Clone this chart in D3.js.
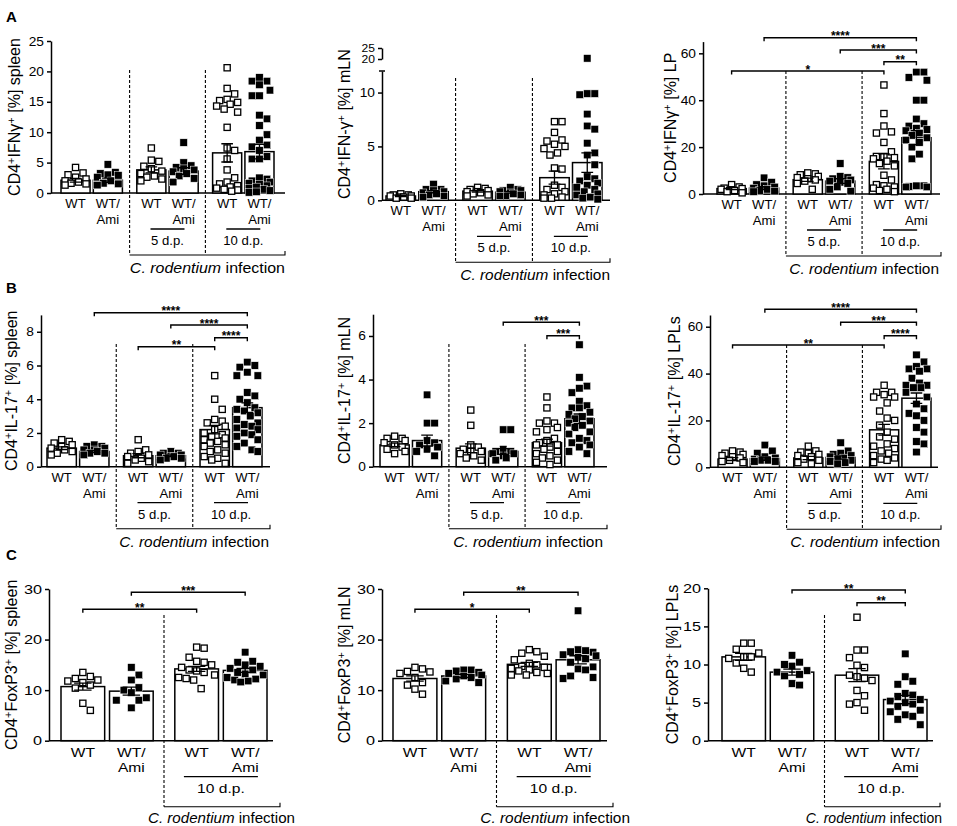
<!DOCTYPE html>
<html>
<head>
<meta charset="utf-8">
<script src="https://cdn.jsdelivr.net/npm/d3@7"></script>
<style>
  body { margin: 0; background: #fff; }
  svg { font-family: "Liberation Sans", Arial, Helvetica, sans-serif; }
</style>
</head>
<body>
<svg id="fig" width="957" height="826"></svg>
<script>
/* DATA */
// bar order in rows A/B: WT, WT/Ami (naive) | WT, WT/Ami (5 d.p.) | WT, WT/Ami (10 d.p.)
const barLabels = ["WT", "WT/Ami", "WT", "WT/Ami", "WT", "WT/Ami"];
const dayLabels = ["", "5 d.p.", "10 d.p."];
// row C: WT, WT/Ami (naive) | WT, WT/Ami (10 d.p.)
const barLabelsC = ["WT", "WT/Ami", "WT", "WT/Ami"];
const dayLabelsC = ["", "10 d.p."];

// A: CD4+IFNγ+ [%]
const ifngSpleen = [
  [4.2, 3.3, 3.0, 2.6, 2.3, 2.0, 1.8, 1.6, 1.5, 1.3],
  [4.7, 3.4, 3.2, 3.0, 2.9, 2.6, 2.0, 1.6, 1.5, 1.3],
  [7.4, 5.4, 5.2, 4.4, 4.0, 3.6, 3.2, 2.8, 2.6, 2.3, 2.0],
  [8.3, 5.0, 4.5, 4.2, 4.0, 3.8, 3.5, 3.2, 2.8, 2.4, 1.8],
  [20.6, 17.2, 16.3, 15.4, 15.2, 14.9, 14.6, 14.3, 13.8, 13.3, 10.8, 7.4, 7.0, 5.6, 3.8, 2.5, 1.8, 1.5, 1.2, 1.0, 0.8, 0.6, 0.5, 0.3],
  [19.0, 18.4, 18.4, 17.8, 16.9, 16.0, 16.0, 12.8, 12.2, 11.1, 9.6, 8.7, 7.9, 7.6, 7.0, 6.0, 5.6, 5.6, 2.5, 2.3, 2.0, 1.8, 1.6, 1.4, 1.2, 1.0, 0.8, 0.6, 0.4, 0.2, 0.1]
];
const ifngSpleenMean = [2.1, 2.1, 3.8, 3.6, 6.6, 6.8];
const ifngSpleenSem = [0.3, 0.35, 0.5, 0.55, 1.5, 1.2];

const ifngMln = [
  [0.6, 0.5, 0.5, 0.4, 0.4, 0.3, 0.3, 0.2, 0.2],
  [1.5, 1.0, 1.0, 0.9, 0.8, 0.7, 0.6, 0.5, 0.4, 0.3],
  [1.2, 1.1, 1.0, 0.9, 0.8, 0.8, 0.7, 0.6, 0.5, 0.4],
  [1.2, 1.0, 0.9, 0.9, 0.8, 0.7, 0.6, 0.5, 0.4, 0.4],
  [7.3, 7.3, 6.3, 5.6, 5.5, 5.2, 5.0, 4.8, 4.4, 4.2, 3.0, 2.9, 1.4, 1.2, 1.0, 0.8, 0.6, 0.5, 0.3, 0.2, 0.2],
  [20.3, 9.9, 9.9, 9.8, 8.0, 6.9, 6.6, 5.3, 4.4, 4.2, 3.3, 2.2, 2.0, 1.8, 1.6, 1.4, 1.2, 1.0, 0.8, 0.6, 0.5, 0.3, 0.2, 0.1]
];
const ifngMlnMean = [0.4, 0.8, 0.85, 0.75, 2.1, 3.5];
const ifngMlnSem = [0.05, 0.1, 0.08, 0.08, 0.6, 0.9];

const ifngLp = [
  [4.0, 3.0, 2.5, 2.3, 2.0, 1.8, 1.5, 1.0, 0.5],
  [6.9, 5.0, 4.0, 3.5, 3.0, 2.5, 2.0, 1.5, 1.2, 1.0],
  [9.0, 8.6, 8.2, 7.5, 7.0, 6.5, 6.0, 5.5, 4.5, 2.0],
  [13.0, 7.5, 7.0, 6.5, 6.0, 5.5, 5.0, 4.5, 3.0, 2.0, 1.2],
  [46.5, 34.3, 29, 26.5, 26, 22, 18, 16, 16, 15.5, 15, 14, 13, 12, 8, 6, 4, 3.5, 3, 2.5, 2, 1.5, 1],
  [52, 52, 49.7, 48.5, 40, 40, 32, 30, 29, 28, 27.5, 27, 26, 25, 24, 23, 22, 20, 17, 15, 3.5, 3.5, 3.2, 3, 3]
];
const ifngLpMean = [2.3, 2.5, 6.1, 5.5, 13.9, 24];
const ifngLpSem = [0.4, 0.6, 0.7, 1.0, 3.2, 3.0];

// B: CD4+IL-17+ [%]
const il17Spleen = [
  [1.6, 1.5, 1.4, 1.3, 1.2, 1.1, 1.0, 0.9, 0.8, 0.7],
  [1.3, 1.2, 1.2, 1.1, 1.0, 1.0, 0.9, 0.8, 0.8, 0.7],
  [1.6, 1.0, 0.9, 0.8, 0.7, 0.6, 0.5, 0.4, 0.3, 0.2],
  [0.9, 0.8, 0.8, 0.7, 0.7, 0.6, 0.6, 0.5, 0.5, 0.4],
  [5.4, 4.0, 3.4, 2.8, 2.7, 2.6, 2.4, 2.2, 2.0, 1.9, 1.8, 1.7, 1.6, 1.5, 1.4, 1.3, 1.2, 1.0, 0.9, 0.8, 0.6, 0.5, 0.4, 0.2],
  [6.2, 6.0, 5.9, 5.6, 5.4, 5.4, 4.4, 4.2, 4.0, 3.8, 3.5, 3.4, 3.3, 3.2, 3.0, 2.8, 2.6, 2.5, 2.4, 2.3, 2.2, 2.0, 1.9, 1.8, 1.6, 1.4, 1.2, 1.0, 0.9]
];
const il17SpleenMean = [1.1, 0.9, 0.65, 0.65, 2.2, 3.5];
const il17SpleenSem = [0.08, 0.06, 0.12, 0.05, 0.25, 0.28];

const il17Mln = [
  [1.4, 1.3, 1.3, 1.2, 1.1, 1.0, 0.9, 0.8, 0.7, 0.6],
  [3.3, 2.0, 2.0, 1.2, 1.1, 1.0, 0.9, 0.8, 0.7, 0.5],
  [2.6, 1.9, 1.0, 0.9, 0.8, 0.7, 0.7, 0.6, 0.5, 0.4, 0.3],
  [1.7, 1.7, 0.8, 0.7, 0.7, 0.6, 0.6, 0.5, 0.4, 0.3],
  [3.2, 2.7, 2.1, 2.0, 2.0, 1.8, 1.7, 1.6, 1.3, 1.2, 1.1, 1.0, 1.0, 0.9, 0.8, 0.7, 0.6, 0.5, 0.4, 0.3, 0.2, 0.1],
  [5.6, 4.1, 3.7, 3.6, 3.4, 3.0, 2.8, 2.7, 2.7, 2.5, 2.4, 2.3, 2.2, 2.1, 2.0, 1.9, 1.8, 1.6, 1.5, 1.3, 1.2, 1.1, 1.0, 0.9, 0.7, 0.6]
];
const il17MlnMean = [1.0, 1.2, 0.85, 0.7, 1.1, 2.2];
const il17MlnSem = [0.08, 0.25, 0.2, 0.13, 0.16, 0.22];

const il17Lpl = [
  [7.0, 6.5, 6.0, 5.5, 5.0, 4.5, 4.0, 3.0, 2.5, 2.0],
  [9.5, 7.0, 6.0, 4.5, 4.0, 3.5, 3.0, 3.0, 2.5, 2.5],
  [9.0, 7.0, 6.5, 6.0, 5.5, 5.0, 4.5, 3.5, 3.0, 2.0, 1.5],
  [10.5, 7.0, 6.0, 5.5, 5.0, 4.5, 4.0, 3.5, 3.0, 2.5, 2.0, 1.5],
  [35, 32, 32, 31, 30, 30, 27.5, 24, 21, 20, 18, 15, 13, 12, 10, 9, 8, 7, 6, 5, 4, 3.5, 3, 2],
  [48, 45, 43, 42, 42, 41, 38, 36, 35, 35, 34, 34, 32, 30, 27, 25, 23, 22, 20, 17, 15, 11, 10, 6.5]
];
const il17LplMean = [3.5, 3.7, 4.0, 4.2, 16, 29.5];
const il17LplSem = [0.6, 0.7, 0.7, 0.7, 2.3, 2.2];

// C: CD4+FoxP3+ [%]
const foxp3Spleen = [
  [13.5, 12.7, 12.3, 12.0, 11.8, 11.5, 11.0, 10.4, 7.4, 6.0],
  [14.5, 13.0, 12.0, 10.5, 10.0, 9.5, 8.5, 8.0, 8.0, 6.5],
  [18.5, 18.3, 16.5, 15.7, 15.5, 15.0, 14.5, 14.0, 13.8, 13.5, 13.0, 12.5, 12.3, 12.0, 10.3],
  [17.5, 15.7, 15.5, 15.0, 14.7, 14.3, 14.0, 13.5, 13.2, 13.0, 12.5, 12.2, 12.0, 11.8, 11.6]
];
const foxp3SpleenMean = [10.7, 9.8, 14.2, 13.9];
const foxp3SpleenSem = [0.7, 0.8, 0.5, 0.4];

const foxp3Mln = [
  [14.5, 14.2, 13.7, 13.6, 13.3, 12.5, 11.5, 11.0, 10.2, 9.2],
  [14.0, 14.0, 13.8, 13.5, 13.3, 13.0, 12.8, 12.5, 12.2, 11.8, 11.5],
  [18.0, 17.6, 17.3, 16.7, 16.0, 15.3, 15.0, 14.7, 14.5, 14.3, 14.0, 13.8, 13.5, 13.3, 13.0, 13.0],
  [25.7, 18.0, 17.8, 17.6, 17.5, 17.0, 16.8, 16.5, 16.2, 15.5, 14.6, 14.2, 14.0, 12.8, 12.5, 12.3]
];
const foxp3MlnMean = [12.3, 12.8, 15.1, 16.0];
const foxp3MlnSem = [0.5, 0.3, 0.4, 0.8];

const foxp3Lpl = [
  [12.8, 12.8, 12.0, 11.5, 11.0, 11.0, 10.8, 10.2, 9.5, 9.0],
  [11.2, 10.3, 10.0, 9.8, 9.2, 9.0, 8.7, 8.5, 7.5, 7.3],
  [16.2, 11.9, 11.9, 10.9, 9.9, 9.6, 8.6, 8.4, 8.2, 7.9, 6.6, 5.9, 5.0, 4.8, 4.0],
  [11.4, 8.4, 7.8, 7.4, 6.2, 6.0, 5.8, 5.4, 5.2, 5.0, 4.8, 4.5, 4.0, 3.8, 3.4, 3.2, 2.8, 2.1]
];
const foxp3LplMean = [11.0, 9.0, 8.6, 5.4];
const foxp3LplSem = [0.45, 0.4, 0.85, 0.55];

// significance: [from bar, to bar, stars]
const sigIfngLp = [[1, 5, "****"], [3, 5, "***"], [4, 5, "**"], [0, 4, "*"]];
const sigIl17Spleen = [[1, 5, "****"], [3, 5, "****"], [4, 5, "****"], [2, 4, "**"]];
const sigIl17Mln = [[3, 5, "***"], [4, 5, "***"]];
const sigIl17Lpl = [[1, 5, "****"], [3, 5, "***"], [4, 5, "****"], [0, 4, "**"]];
const sigFoxp3Spleen = [[1, 3, "***"], [0, 2, "**"]];
const sigFoxp3Mln = [[1, 3, "**"], [0, 2, "*"]];
const sigFoxp3Lpl = [[1, 3, "**"], [2, 3, "**"]];

/* LAYOUT */
const rowAB = { lab1: 15, lab2: 31, dayLine: 36, dayText: 52, bracket: 62, inf: 80, dayHalf: 17, sx: 1.05, tickSx: 1.1 };
const rowC = { lab1: 16, lab2: 31, dayLine: 36, dayText: 52.6, bracket: 66, inf: 82, dayHalf: 37, sx: 1.25, tickSx: 1.3 };

const lin = (top, y0, yTop) => d3.scaleLinear().domain([0, top]).range([y0, yTop]);

const panels = [
  { pts: ifngSpleen, mean: ifngSpleenMean, sem: ifngSpleenSem, labels: barLabels, days: dayLabels,
    title: "CD4^+IFNγ^+ [%] spleen", ticks: [0, 5, 10, 15, 20, 25], y: lin(25, 193, 41),
    sig: [], sigY: [], row: rowAB, ax: 51, axEnd: 285, b0: 61, b1: 274, dashTop: 70, brEnd: 285,
    infEnd: 285, infSx: 1.14, titleX: 20 },
  { pts: ifngMln, mean: ifngMlnMean, sem: ifngMlnSem, labels: barLabels, days: dayLabels,
    title: "CD4^+IFN-γ^+ [%] mLN", broken: true,
    yLow: d3.scaleLinear().domain([0, 12]).range([200.3, 71]),
    yHigh: d3.scaleLinear().domain([20, 25]).range([59, 48]),
    sig: [], sigY: [], row: rowAB, ax: 382, axEnd: 610, b0: 386, b1: 602, dashTop: 78, brEnd: 610,
    infEnd: 610, infSx: 1.1, titleX: 350 },
  { pts: ifngLp, mean: ifngLpMean, sem: ifngLpSem, labels: barLabels, days: dayLabels,
    title: "CD4^+IFNγ^+ [%] LP", ticks: [0, 20, 40, 60], y: lin(65, 194, 41.6),
    sig: sigIfngLp, sigY: [37.7, 50, 61.7, 71], row: rowAB, ax: 703, axEnd: 940, b0: 717, b1: 931, dashTop: 71, brEnd: 941,
    infEnd: 939, infSx: 1.1, titleX: 676 },
  { pts: il17Spleen, mean: il17SpleenMean, sem: il17SpleenSem, labels: barLabels, days: dayLabels,
    title: "CD4^+IL-17^+ [%] spleen", ticks: [0, 2, 4, 6, 8], y: lin(9, 466.7, 314.9),
    sig: sigIl17Spleen, sigY: [312.7, 325, 337.7, 346.7], row: rowAB, ax: 41, axEnd: 270, b0: 47, b1: 262, dashTop: 344, brEnd: 270,
    infEnd: 269, infSx: 1.1, titleX: 17 },
  { pts: il17Mln, mean: il17MlnMean, sem: il17MlnSem, labels: barLabels, days: dayLabels,
    title: "CD4^+IL-17^+ [%] mLN", ticks: [0, 2, 4, 6], y: lin(7, 466.7, 314.2),
    sig: sigIl17Mln, sigY: [322.3, 335.7], row: rowAB, ax: 373, axEnd: 607, b0: 380, b1: 594, dashTop: 344, brEnd: 607,
    infEnd: 603, infSx: 1.1, titleX: 350 },
  { pts: il17Lpl, mean: il17LplMean, sem: il17LplSem, labels: barLabels, days: dayLabels,
    title: "CD4^+IL-17^+ [%] LPLs", ticks: [0, 20, 40, 60], y: lin(65, 467.3, 315),
    sig: sigIl17Lpl, sigY: [309.3, 322.3, 335.7, 345], row: rowAB, ax: 710, axEnd: 938, b0: 718, b1: 931, dashTop: 345, brEnd: 941,
    infEnd: 940, infSx: 1.1, titleX: 680 },
  { pts: foxp3Spleen, mean: foxp3SpleenMean, sem: foxp3SpleenSem, labels: barLabelsC, days: dayLabelsC,
    title: "CD4^+FoxP3^+ [%] spleen", ticks: [0, 10, 20, 30], y: lin(30, 740.7, 589),
    sig: sigFoxp3Spleen, sigY: [592.3, 609.3], row: rowC, ax: 49, axEnd: 273, b0: 61, b1: 267, dashTop: 615, brEnd: 280,
    infEnd: 295, infSx: 1.08, titleX: 17 },
  { pts: foxp3Mln, mean: foxp3MlnMean, sem: foxp3MlnSem, labels: barLabelsC, days: dayLabelsC,
    title: "CD4^+FoxP3^+ [%] mLN", ticks: [0, 10, 20, 30], y: lin(30, 740.7, 589),
    sig: sigFoxp3Mln, sigY: [592.3, 609.3], row: rowC, ax: 382, axEnd: 607, b0: 393, b1: 600, dashTop: 615, brEnd: 613,
    infEnd: 630, infSx: 1.1, titleX: 350 },
  { pts: foxp3Lpl, mean: foxp3LplMean, sem: foxp3LplSem, labels: barLabelsC, days: dayLabelsC,
    title: "CD4^+FoxP3^+ [%] LPLs", ticks: [0, 5, 10, 15, 20], y: lin(20, 740.7, 588.3),
    sig: sigFoxp3Lpl, sigY: [590, 602.7], row: rowC, ax: 708, axEnd: 933, b0: 722, b1: 927, dashTop: 615, brEnd: 940,
    infEnd: 942, infSx: 1.0, titleX: 678 }
];

const SQ = 7.5; // square marker size

const svg = d3.select("#fig");

// horizontal text, slightly stretched like the original figure
function hText(sel, x, y, str, size, sx, anchor) {
  return sel.append("text")
    .attr("transform", `translate(${x},${y}) scale(${sx},1)`)
    .attr("text-anchor", anchor || "middle")
    .attr("font-size", size)
    .text(str);
}

// simple beeswarm: spread points sideways (in rows, like Prism) so squares don't stack
function swarm(vals, y, cx, half) {
  const order = vals.map(v => ({ v, py: y(v) })).sort((a, b) => a.py - b.py);
  const placed = [];
  const cand = [0];
  for (let o = 1.5; o <= half; o += 1.5) cand.push(o, -o);
  const limX = SQ * 1.0, limY = SQ * 1.35;
  order.forEach(p => {
    let best = 0, bestCost = Infinity;
    for (const o of cand) {
      let cost = 0;
      for (const q of placed) {
        const dx = Math.abs(q.dx - o), dy = Math.abs(q.py - p.py);
        if (dx < limX && dy < limY) cost += (limX - dx) * (limY - dy);
      }
      if (cost === 0) { best = o; break; }
      if (cost < bestCost - 1e-6) { bestCost = cost; best = o; }
    }
    p.dx = best;
    placed.push(p);
  });
  return placed.map(p => ({ v: p.v, x: cx + p.dx, y: p.py }));
}

function styleAxis(a, sx, size) {
  a.attr("font-family", null).attr("font-size", size || 12.5);
  a.select(".domain").attr("stroke-width", 1.5);
  a.selectAll(".tick line").attr("stroke-width", 1.5);
  a.selectAll(".tick text").attr("x", -7 / sx).attr("transform", `scale(${sx},1)`);
}

function drawPanel(p) {
  const g = svg.append("g");
  const r = p.row;
  const nG = p.pts.length / 2;
  const xg = d3.scaleBand().domain(d3.range(nG)).range([p.b0, p.b1]).paddingInner(0.19);
  const xb = d3.scaleBand().domain([0, 1]).range([0, xg.bandwidth()]).paddingInner(0.1);
  const bw = xb.bandwidth();
  const cx = i => xg(Math.floor(i / 2)) + xb(i % 2) + bw / 2;
  const fmt = d3.format("d");

  let y, yTopPx;
  if (p.broken) {
    y = v => (v <= 12 ? p.yLow(v) : p.yHigh(v));
    yTopPx = p.yHigh.range()[1];
  } else {
    y = p.y;
    yTopPx = p.y.range()[1];
  }
  const y0 = y(0);

  // y axis
  if (p.broken) {
    const a1 = g.append("g").attr("transform", `translate(${p.ax},0)`)
      .call(d3.axisLeft(p.yLow).tickValues([0, 5, 10]).tickSize(4).tickSizeOuter(0).tickFormat(fmt));
    styleAxis(a1, r.tickSx);
    // cap at the top of the lower segment
    g.append("line")
      .attr("x1", p.ax - 3).attr("x2", p.ax + 3)
      .attr("y1", p.yLow(12)).attr("y2", p.yLow(12))
      .attr("stroke", "#000").attr("stroke-width", 1.5);
    const a2 = g.append("g").attr("transform", `translate(${p.ax},0)`)
      .call(d3.axisLeft(p.yHigh).tickValues([20, 25]).tickSize(4).tickSizeOuter(0).tickFormat(fmt));
    styleAxis(a2, 1.1, 11);
  } else {
    const a = g.append("g").attr("transform", `translate(${p.ax},0)`)
      .call(d3.axisLeft(p.y).tickValues(p.ticks).tickSize(4).tickSizeOuter(0).tickFormat(fmt));
    styleAxis(a, r.tickSx);
  }

  // x axis line
  g.append("line")
    .attr("x1", p.ax).attr("x2", p.axEnd)
    .attr("y1", y0).attr("y2", y0)
    .attr("stroke", "#000").attr("stroke-width", 1.5);

  // bars
  g.selectAll("rect.bar")
    .data(p.mean)
    .join("rect")
    .attr("class", "bar")
    .attr("x", (d, i) => cx(i) - bw / 2)
    .attr("width", bw)
    .attr("y", d => y(d))
    .attr("height", d => y0 - y(d))
    .attr("fill", "#fff")
    .attr("stroke", "#000")
    .attr("stroke-width", 1.5);

  // points
  p.pts.forEach((vals, i) => {
    const open = i % 2 === 0;
    const pts = swarm(vals, y, cx(i), bw / 2 - SQ / 2 + 1);
    g.append("g").selectAll("rect")
      .data(pts)
      .join("rect")
      .attr("x", d => d.x - (open ? SQ / 2 - 0.65 : SQ / 2))
      .attr("y", d => d.y - (open ? SQ / 2 - 0.65 : SQ / 2))
      .attr("width", open ? SQ - 1.3 : SQ)
      .attr("height", open ? SQ - 1.3 : SQ)
      .attr("fill", open ? "#fff" : "#000")
      .attr("stroke", open ? "#000" : "#fff")
      .attr("stroke-width", open ? 1.3 : 0.5);
  });

  // error bars (mean ± SEM)
  const cap = bw * 0.4;
  p.mean.forEach((m, i) => {
    const c = cx(i), hi = y(m + p.sem[i]), lo = y(Math.max(0, m - p.sem[i]));
    g.append("path")
      .attr("d", `M${c},${lo}V${hi}M${c - cap / 2},${hi}H${c + cap / 2}M${c - cap / 2},${lo}H${c + cap / 2}`)
      .attr("stroke", "#000").attr("stroke-width", 1.3).attr("fill", "none");
  });

  // dashed separators and infection bracket
  const brY = y0 + r.bracket;
  const dashX = d3.range(1, nG).map(k => (xg(k - 1) + xg.bandwidth() + xg(k)) / 2);
  dashX.forEach(x => {
    g.append("line")
      .attr("x1", x).attr("x2", x)
      .attr("y1", p.dashTop).attr("y2", brY)
      .attr("stroke", "#000").attr("stroke-width", 1.1)
      .attr("stroke-dasharray", "3,2");
  });
  g.append("path")
    .attr("d", `M${dashX[0]},${brY}H${p.brEnd}V${brY - 4}`)
    .attr("stroke", "#000").attr("stroke-width", 1.1).attr("fill", "none");
  const inf = g.append("text")
    .attr("transform", `translate(${p.infEnd},${y0 + r.inf}) scale(${p.infSx},1)`)
    .attr("text-anchor", "end")
    .attr("font-size", 14);
  inf.append("tspan").attr("font-style", "italic").text("C. rodentium");
  inf.append("tspan").text(" infection");

  // x tick labels
  p.labels.forEach((lab, i) => {
    const parts = lab === "WT/Ami" ? ["WT/", "Ami"] : [lab];
    hText(g, cx(i), y0 + r.lab1, parts[0], 12.5, r.sx);
    if (parts[1]) hText(g, cx(i), y0 + r.lab2, parts[1], 12.5, r.sx);
  });

  // day labels with underline
  p.days.forEach((d, k) => {
    if (!d) return;
    const gc = xg(k) + xg.bandwidth() / 2;
    g.append("line")
      .attr("x1", gc - r.dayHalf).attr("x2", gc + r.dayHalf)
      .attr("y1", y0 + r.dayLine).attr("y2", y0 + r.dayLine)
      .attr("stroke", "#000").attr("stroke-width", 1.3);
    hText(g, gc, y0 + r.dayText, d, 12.5, r.sx);
  });

  // significance brackets
  p.sig.forEach((s, k) => {
    const yb = p.sigY[k], xa = cx(s[0]), xc = cx(s[1]);
    g.append("path")
      .attr("d", `M${xa},${yb + 3.5}V${yb}H${xc}V${yb + 3.5}`)
      .attr("stroke", "#000").attr("stroke-width", 1.4).attr("fill", "none");
    g.append("text")
      .attr("x", (xa + xc) / 2).attr("y", yb + 2.5)
      .attr("text-anchor", "middle")
      .attr("font-size", 12).attr("font-weight", "bold")
      .text(s[2]);
  });

  // y title with superscripts
  const yc = (y0 + yTopPx) / 2;
  const t = g.append("text")
    .attr("transform", `translate(${p.titleX},${yc}) rotate(-90)`)
    .attr("text-anchor", "middle")
    .attr("font-size", 16);
  p.title.split("^+").forEach((part, k, arr) => {
    t.append("tspan").attr("dy", k === 0 ? 0 : 5).text(part);
    if (k < arr.length - 1) t.append("tspan").attr("dy", -5).attr("font-size", 11).text("+");
  });
}

panels.forEach(drawPanel);

// panel letters
[["A", 22], ["B", 293], ["C", 560]].forEach(([l, yy]) => {
  svg.append("text")
    .attr("x", 6).attr("y", yy)
    .attr("font-size", 15).attr("font-weight", "bold")
    .text(l);
});
</script>
</body>
</html>
